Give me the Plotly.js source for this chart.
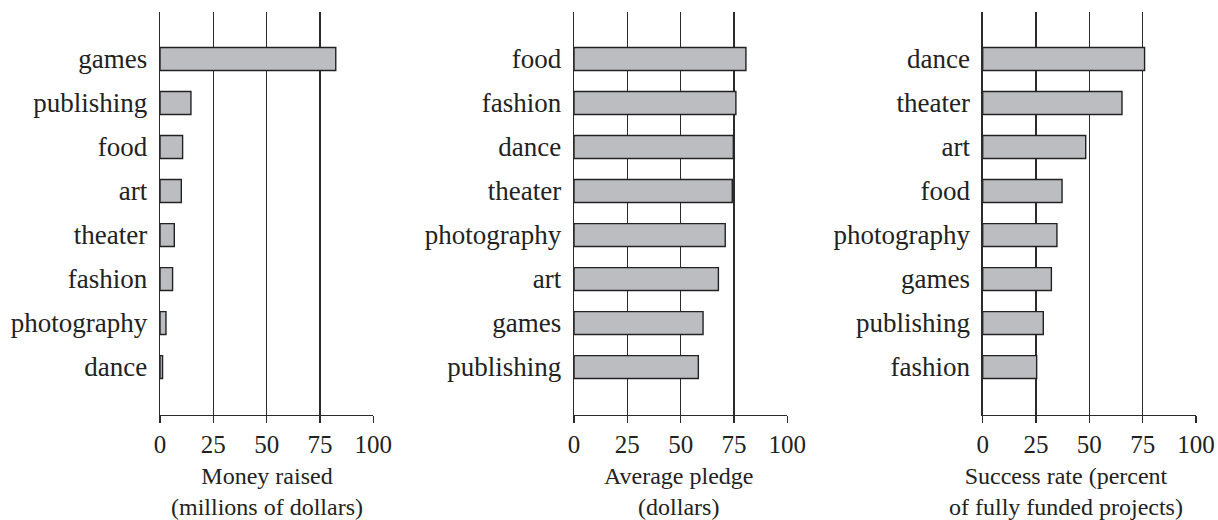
<!DOCTYPE html>
<html>
<head>
<meta charset="utf-8">
<script src="https://cdn.plot.ly/plotly-3.0.1.min.js"></script>
<style>html,body{margin:0;padding:0;background:#fff;}#chart{width:1218px;height:520px;}</style>
</head>
<body>
<div id="chart"></div>
<script>
const moneyCategories = ['games','publishing','food','art','theater','fashion','photography','dance'];
const moneyValues = [82.4, 14.5, 10.6, 10.0, 6.7, 5.9, 2.8, 1.2];

const pledgeCategories = ['food','fashion','dance','theater','photography','art','games','publishing'];
const pledgeValues = [80.6, 75.9, 74.7, 74.2, 70.9, 67.7, 60.5, 58.3];

const successCategories = ['dance','theater','art','food','photography','games','publishing','fashion'];
const successValues = [75.9, 65.3, 48.3, 37.2, 34.8, 32.2, 28.4, 25.3];

const xTickVals = [0, 25, 50, 75, 100];
const xTickText = ['0', '25', '50', '75', '100'];

const titles = [
  'Money raised<br>(millions of dollars)',
  'Average pledge<br>(dollars)',
  'Success rate (percent<br>of fully funded projects)'
];

const FONT = "'Liberation Serif', 'Times New Roman', serif";
const FS = 27;
const XFS = 25;
const TFS = 24;
const INK = '#2b2b2b';
const BARFILL = '#bcbdc1';

function barTrace(cats, vals, idx) {
  const s = idx === 1 ? '' : String(idx);
  return {
    type: 'bar', orientation: 'h',
    y: cats, x: vals,
    xaxis: 'x' + s, yaxis: 'y' + s,
    width: 0.52,
    marker: { color: BARFILL, line: { color: '#222', width: 1.4 } },
    hoverinfo: 'skip'
  };
}

const data = [
  barTrace(moneyCategories, moneyValues, 1),
  barTrace(pledgeCategories, pledgeValues, 2),
  barTrace(successCategories, successValues, 3)
];

const W = 1218;
const domains = [[160/W, 373.3/W], [574/W, 787.3/W], [982.7/W, 1196/W]];
const titleCenters = [266.7/W, 678/W, 1066/W];
const catLists = [moneyCategories, pledgeCategories, successCategories];

const layout = {
  width: 1218, height: 520,
  margin: { l: 0, r: 0, t: 12, b: 105 },
  paper_bgcolor: '#fff', plot_bgcolor: '#fff',
  showlegend: false,
  font: { family: FONT, size: FS, color: '#222' },
  bargap: 0,
  annotations: []
};

const plotH = 520 - 12 - 105;
function paperY(py) { return (415 - py) / plotH; }

for (let i = 0; i < 3; i++) {
  const s = i === 0 ? '' : String(i + 1);
  layout['xaxis' + s] = {
    domain: domains[i],
    anchor: 'y' + s,
    range: [0, 100],
    fixedrange: true,
    tickmode: 'array', tickvals: xTickVals, ticktext: xTickText,
    ticks: 'outside', ticklen: 7, tickwidth: 1.3, tickcolor: INK,
    showgrid: true, gridcolor: INK, gridwidth: 1.3,
    zeroline: false,
    showline: true, linecolor: INK, linewidth: 1.3,
    tickfont: { family: FONT, size: XFS, color: '#222' }
  };
  layout['yaxis' + s] = {
    domain: [0, 1],
    anchor: 'x' + s,
    type: 'category',
    categoryorder: 'array', categoryarray: catLists[i],
    range: [8.09, -1.068],
    fixedrange: true,
    ticks: '', showgrid: false, zeroline: false,
    showline: true, linecolor: INK, linewidth: 1.3,
    ticklabelstandoff: 6,
    tickfont: { family: FONT, size: FS, color: '#222' }
  };
  layout.annotations.push({
    xref: 'paper', yref: 'paper', x: titleCenters[i], y: paperY(491),
    xanchor: 'center', yanchor: 'middle', align: 'center', showarrow: false,
    text: titles[i],
    font: { family: FONT, size: TFS, color: '#222' }
  });
}

Plotly.newPlot('chart', data, layout, { displayModeBar: false, staticPlot: true });
</script>
</body>
</html>
